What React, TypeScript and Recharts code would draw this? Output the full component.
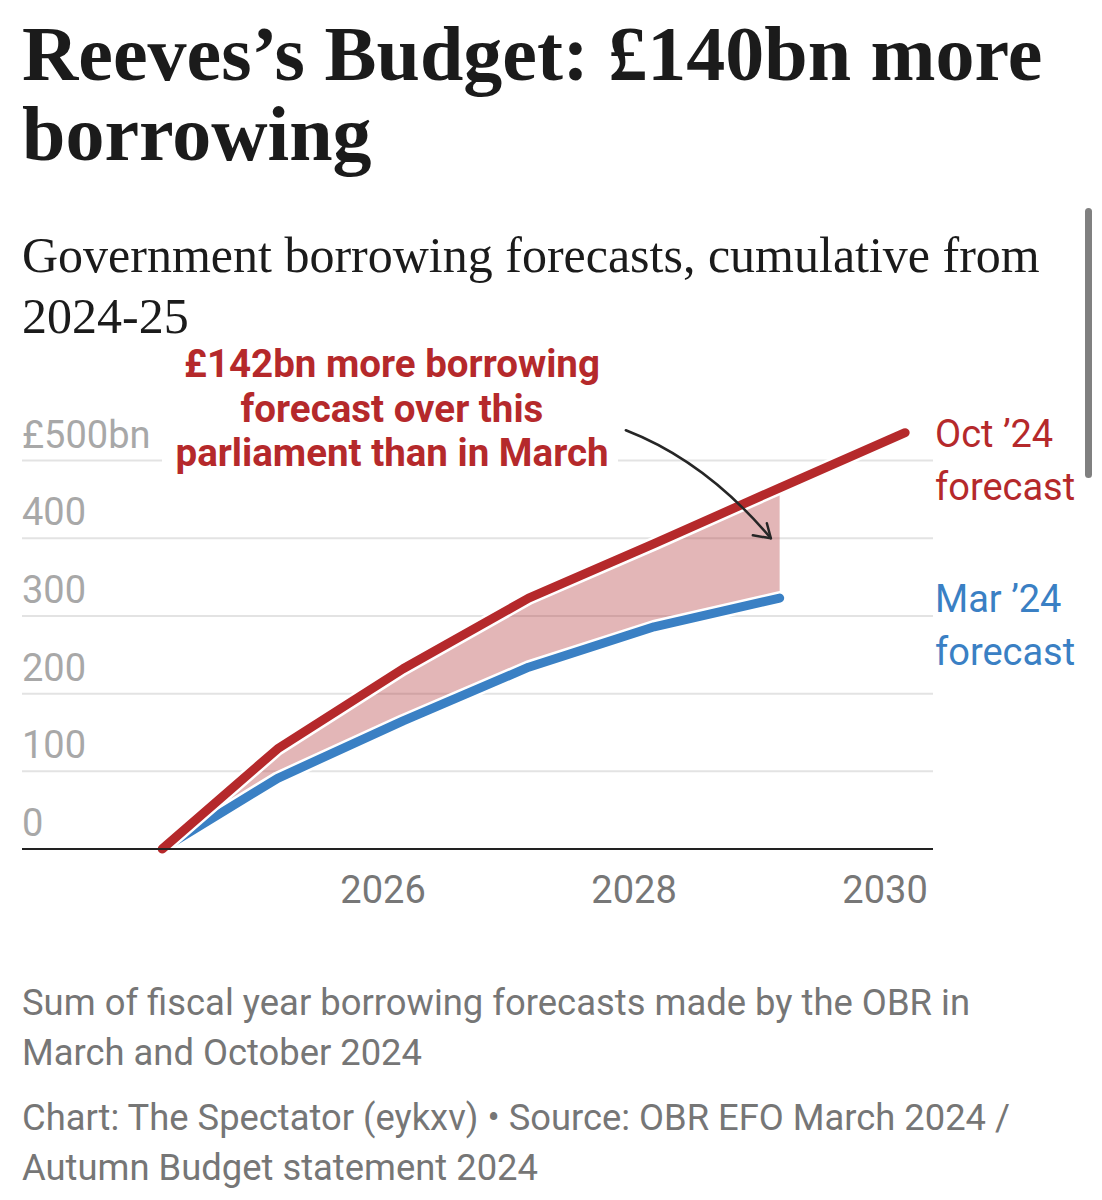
import React from "react";
import {
  ComposedChart,
  Line,
  Area,
  XAxis,
  YAxis,
  CartesianGrid,
  LabelList,
  ReferenceDot,
} from "recharts";

// Cumulative borrowing forecasts (£bn), summed from the start of 2024-25
const years = [2024.24, 2025.16, 2026.16, 2027.16, 2028.16, 2029.16, 2030.16];
const octForecast = [0, 129, 232, 323, 393, 465, 536];
const marForecast: (number | null)[] = [0, 91, 165, 234, 286, 323, null];

const xTicks = [2026, 2028, 2030];
const yTicks = [0, 100, 200, 300, 400, 500];
const yTickLabels = ["0", "100", "200", "300", "400", "£500bn"];

const octLabel = ["Oct ’24", "forecast"];
const marLabel = ["Mar ’24", "forecast"];

const annotationLines = [
  "£142bn more borrowing",
  "forecast over this",
  "parliament than in March",
];
// Point the annotation arrow lands on (year, £bn)
const arrowTarget = { year: 2029.09, value: 400 };

const titleLines = ["Reeves’s Budget: £140bn more", "borrowing"];
const subtitleLines = ["Government borrowing forecasts, cumulative from", "2024-25"];
const footerLines = [
  "Sum of fiscal year borrowing forecasts made by the OBR in",
  "March and October 2024",
  "Chart: The Spectator (eykxv) • Source: OBR EFO March 2024 /",
  "Autumn Budget statement 2024",
];

const data = years.map((year, i) => ({
  year,
  oct: octForecast[i],
  mar: marForecast[i],
  gap: marForecast[i] == null ? null : [marForecast[i], octForecast[i]],
}));

const W = 1102;
const H = 1200;
const Y_AXIS_W = 1;
const MARGIN = { top: 414, right: 169, bottom: 291, left: 21 };
const PLOT_LEFT = MARGIN.left + Y_AXIS_W;
const X_AXIS_H = 60;

const RED = "#b5292b";
const BLUE = "#3a80c4";
const SANS = "Roboto, 'Noto Sans', sans-serif";
const SERIF = "'Liberation Serif', 'DejaVu Serif', serif";

const YTick = (props: any) => {
  const { y, payload } = props;
  const idx = yTicks.indexOf(Number(payload?.value));
  if (idx < 0) return null;
  return (
    <text
      x={PLOT_LEFT}
      y={y - 13}
      fill="#a8a8a8"
      fontSize={38}
      fontFamily={SANS}
      textAnchor="start"
    >
      {yTickLabels[idx]}
    </text>
  );
};

const XTick = (props: any) => {
  const { x, y, payload } = props;
  return (
    <text
      x={x}
      y={y + 54}
      fill="#777"
      fontSize={38}
      fontFamily={SANS}
      textAnchor="middle"
    >
      {payload.value}
    </text>
  );
};

const endLabel =
  (lines: string[], color: string, lastIndex: number) => (props: any) => {
    const { y, index } = props;
    if (index !== lastIndex || y == null) return null;
    const lx = W - MARGIN.right + 2;
    return (
      <g>
        <text x={lx} y={y + 14} fill={color} fontSize={38} fontFamily={SANS}>
          {lines[0]}
        </text>
        <text x={lx} y={y + 67} fill={color} fontSize={38} fontFamily={SANS}>
          {lines[1]}
        </text>
      </g>
    );
  };

const ArrowShape = (props: any) => {
  const { cx, cy } = props;
  if (cx == null || cy == null) return null;
  const sx = cx - 145;
  const sy = cy - 108;
  const qx = cx - 65;
  const qy = cy - 77;
  return (
    <g fill="none" stroke="#262626" strokeWidth={2.5} strokeLinecap="round">
      <path d={`M${sx},${sy} Q${qx},${qy} ${cx},${cy}`} />
      <path d={`M${cx - 18},${cy - 3} L${cx},${cy} L${cx - 4},${cy - 15}`} strokeLinejoin="round" />
    </g>
  );
};

const lastOct = octForecast.length - 1;
const lastMar = marForecast.reduce((acc, v, i) => (v != null ? i : acc), 0);

export default function App() {
  return (
    <div
      style={{
        position: "absolute",
        left: 0,
        top: 0,
        width: W,
        height: H,
        background: "#fff",
        overflow: "hidden",
      }}
    >
      <ComposedChart width={W} height={H} data={data} margin={MARGIN}>
        <CartesianGrid
          vertical={false}
          stroke="#e3e3e3"
          strokeWidth={2}
          horizontalValues={yTicks}
        />
        <XAxis
          dataKey="year"
          type="number"
          domain={[2023.123, 2030.382]}
          ticks={xTicks}
          interval={0}
          tickLine={false}
          tickSize={0}
          tickMargin={0}
          axisLine={{ stroke: "#222", strokeWidth: 2 }}
          tick={<XTick />}
          height={X_AXIS_H}
        />
        <YAxis
          type="number"
          domain={[0, 560]}
          ticks={yTicks}
          interval={0}
          axisLine={false}
          tickLine={false}
          width={Y_AXIS_W}
          tick={<YTick />}
        />
        <Area
          dataKey="gap"
          type="linear"
          fill="#af2d30"
          fillOpacity={0.35}
          stroke="none"
          isAnimationActive={false}
          activeDot={false}
          dot={false}
        />
        <Line
          dataKey="mar"
          type="linear"
          stroke="#fff"
          strokeWidth={14}
          dot={false}
          activeDot={false}
          isAnimationActive={false}
          strokeLinecap="round"
          strokeLinejoin="round"
        />
        <Line
          dataKey="mar"
          type="linear"
          stroke={BLUE}
          strokeWidth={9}
          dot={false}
          activeDot={false}
          isAnimationActive={false}
          strokeLinecap="round"
          strokeLinejoin="round"
        >
          <LabelList dataKey="mar" content={endLabel(marLabel, BLUE, lastMar)} />
        </Line>
        <Line
          dataKey="oct"
          type="linear"
          stroke="#fff"
          strokeWidth={14}
          dot={false}
          activeDot={false}
          isAnimationActive={false}
          strokeLinecap="round"
          strokeLinejoin="round"
        />
        <Line
          dataKey="oct"
          type="linear"
          stroke={RED}
          strokeWidth={9}
          dot={false}
          activeDot={false}
          isAnimationActive={false}
          strokeLinecap="round"
          strokeLinejoin="round"
        >
          <LabelList dataKey="oct" content={endLabel(octLabel, RED, lastOct)} />
        </Line>
        <ReferenceDot
          x={arrowTarget.year}
          y={arrowTarget.value}
          r={0}
          shape={<ArrowShape />}
        />
      </ComposedChart>

      <svg
        width={W}
        height={H}
        style={{ position: "absolute", left: 0, top: 0, pointerEvents: "none" }}
      >
        {/* Headline and subtitle */}
        {titleLines.map((t, i) => (
          <text
            key={t}
            x={22}
            y={80 + i * 80}
            fontFamily={SERIF}
            fontWeight={700}
            fontSize={78}
            fill="#1b1b1b"
          >
            {t}
          </text>
        ))}
        {subtitleLines.map((t, i) => (
          <text
            key={t}
            x={22}
            y={272 + i * 61}
            fontFamily={SERIF}
            fontSize={50}
            fill="#1b1b1b"
          >
            {t}
          </text>
        ))}

        {/* Annotation block with a white backing over the gridline */}
        <rect x={162} y={338} width={456} height={138} fill="#fff" />
        {annotationLines.map((t, i) => (
          <text
            key={t}
            x={392}
            y={377 + i * 44.5}
            textAnchor="middle"
            fontFamily={SANS}
            fontWeight={700}
            fontSize={38.5}
            fill={RED}
          >
            {t}
          </text>
        ))}

        {/* Notes and source */}
        {footerLines.map((t, i) => {
          const ys = [1015, 1065, 1130, 1180];
          const lens = [948, 400, 988, 516];
          return (
            <text
              key={t}
              x={22}
              y={ys[i]}
              fontFamily={SANS}
              fontSize={37.5}
              fill="#767676"
              textLength={lens[i]}
              lengthAdjust="spacingAndGlyphs"
            >
              {t}
            </text>
          );
        })}

        {/* Scroll indicator */}
        <rect x={1085} y={208} width={7} height={270} rx={3.5} fill="#808080" />
      </svg>
    </div>
  );
}
